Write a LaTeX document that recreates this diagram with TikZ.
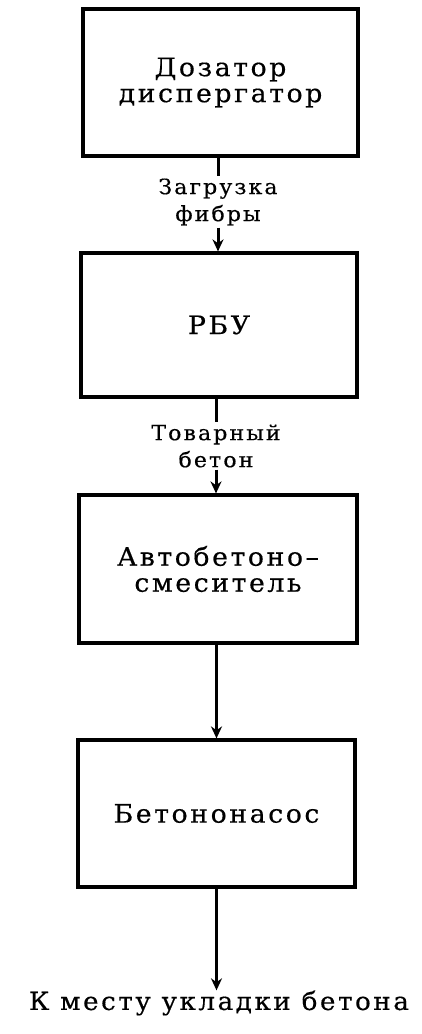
\documentclass[tikz,border=0pt]{standalone}
\usepackage{fontspec}
\setmainfont{DejaVu Serif}[FakeStretch=1.05, LetterSpace=10, FakeBold=0.4]
\usetikzlibrary{arrows.meta}
\tikzset{
  box/.style={draw, line width=3.2pt, rectangle, align=center, inner sep=0pt,
    font=\fontsize{25.5}{26}\selectfont},
  lab/.style={align=center, inner sep=2pt, font=\fontsize{21}{27}\selectfont},
  flow/.style={line width=3pt, -{Stealth[length=12pt,width=11pt]}},
  stem/.style={line width=3pt}
}
\begin{document}
\begin{tikzpicture}[x=1pt,y=-1pt]
\useasboundingbox (0,0) rectangle (422,1034);
\node[box, line width=4.2pt, minimum width=275pt, minimum height=147pt] (b1) at (220.5,82.5) {Дозатор\\диспергатор};
\node[box, minimum width=276pt, minimum height=144pt] (b2) at (219,325) {РБУ};
\node[box, minimum width=278pt, minimum height=148pt] (b3) at (218,569) {Автобетоно–\\смеситель};
\node[box, minimum width=277pt, minimum height=147pt] (b4) at (216.5,813.5) {Бетононасос};
\node[lab] (l1) at (218,202) {Загрузка\\фибры};
\node[lab] (l2) at (216,446) {Товарный\\бетон};
\node[font=\fontsize{25}{25}\selectfont, inner sep=0pt] (end) at (219,1003) {К месту укладки бетона};
\draw[stem] (b1.south -| l1) -- (l1.north);
\draw[flow] (l1.south) -- (b2.north -| l1);
\draw[stem] (b2.south -| l2) -- (l2.north);
\draw[flow] (l2.south) -- (b3.north -| l2);
\draw[flow] (b4.north |- b3.south) -- (b4.north);
\draw[flow] (b4.south) -- (end.north -| b4.south);
\end{tikzpicture}
\end{document}
